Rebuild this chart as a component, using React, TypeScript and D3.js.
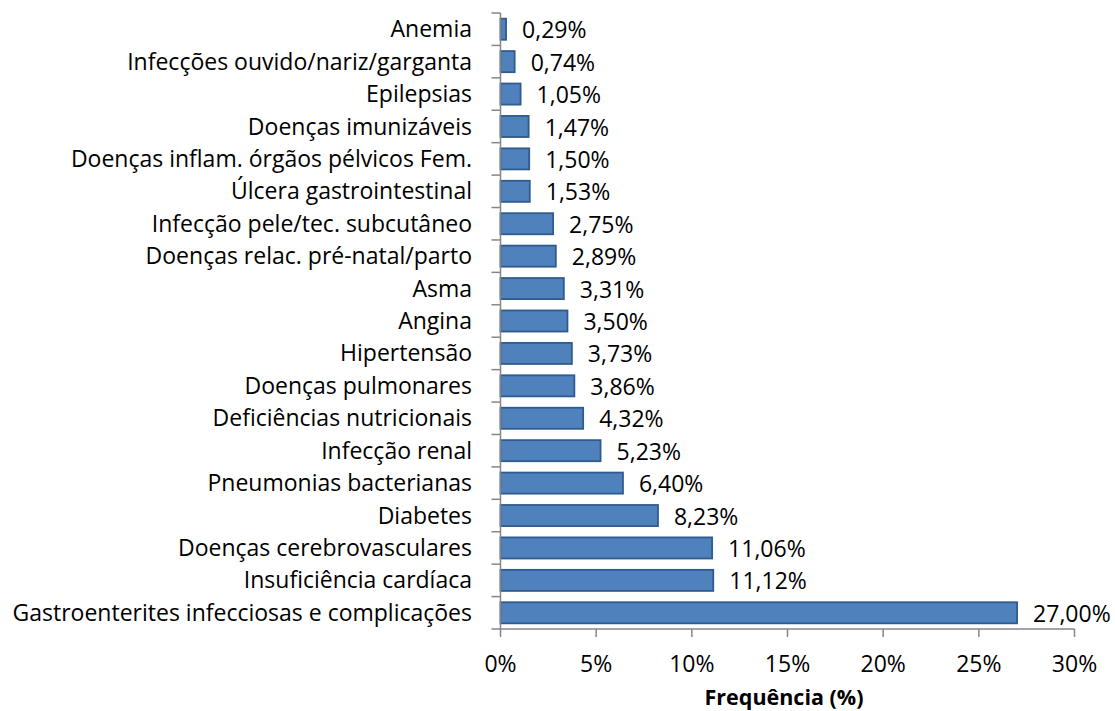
import React from "react";
import * as d3 from "d3";

const categories = [
  "Anemia",
  "Infecções ouvido/nariz/garganta",
  "Epilepsias",
  "Doenças imunizáveis",
  "Doenças inflam. órgãos pélvicos Fem.",
  "Úlcera gastrointestinal",
  "Infecção pele/tec. subcutâneo",
  "Doenças relac. pré-natal/parto",
  "Asma",
  "Angina",
  "Hipertensão",
  "Doenças pulmonares",
  "Deficiências nutricionais",
  "Infecção renal",
  "Pneumonias bacterianas",
  "Diabetes",
  "Doenças cerebrovasculares",
  "Insuficiência cardíaca",
  "Gastroenterites infecciosas e complicações",
];

const values = [
  0.29, 0.74, 1.05, 1.47, 1.5, 1.53, 2.75, 2.89, 3.31, 3.5, 3.73, 3.86, 4.32,
  5.23, 6.4, 8.23, 11.06, 11.12, 27.0,
];

const xTicks = [0, 5, 10, 15, 20, 25, 30];
const axisTitle = "Frequência (%)";

const W = 1115;
const H = 711;
const left = 500.5;
const right = 1074.5;
const top = 13;
const bottom = 629;
const font = "'Open Sans', sans-serif";
const fs = 23;

export default function App() {
  const x = d3.scaleLinear().domain([0, 30]).range([left, right]);
  const y = d3
    .scaleBand<string>()
    .domain(categories)
    .range([top, bottom])
    .paddingInner(0.35)
    .paddingOuter(0.175);
  const bandStep = (bottom - top) / categories.length;
  const fmt = (v: number) => v.toFixed(2).replace(".", ",") + "%";

  return (
    <svg
      width={W}
      height={H}
      style={{ position: "absolute", left: 0, top: 0, background: "#fff" }}
      fontFamily={font}
    >
      {categories.map((c, i) => (
        <g key={c}>
          <rect
            x={x(0)}
            y={y(c)!}
            width={x(values[i]) - x(0)}
            height={y.bandwidth()}
            fill="#4F81BD"
            stroke="#2F5B8E"
            strokeWidth={1.8}
          />
          <text
            x={x(values[i]) + 16}
            y={y(c)! + y.bandwidth() / 2 + 1}
            dy="0.35em"
            fontSize={fs}
            fill="#000"
          >
            {fmt(values[i])}
          </text>
          <text
            x={472}
            y={y(c)! + y.bandwidth() / 2}
            dy="0.35em"
            fontSize={fs}
            textAnchor="end"
            fill="#000"
          >
            {c}
          </text>
        </g>
      ))}
      {/* y axis */}
      <line x1={left} x2={left} y1={top} y2={bottom} stroke="#868686" strokeWidth={1.5} />
      {d3.range(categories.length + 1).map((i) => (
        <line
          key={"yt" + i}
          x1={left - 9}
          x2={left}
          y1={top + i * bandStep}
          y2={top + i * bandStep}
          stroke="#868686"
          strokeWidth={1.5}
        />
      ))}
      {/* x axis */}
      <line x1={left} x2={right} y1={bottom} y2={bottom} stroke="#868686" strokeWidth={1.5} />
      {xTicks.map((t) => (
        <g key={"xt" + t}>
          <line x1={x(t)} x2={x(t)} y1={bottom} y2={bottom + 8} stroke="#868686" strokeWidth={1.5} />
          <text x={x(t)} y={664} dy="0.35em" textAnchor="middle" fontSize={fs} fill="#000">
            {t + "%"}
          </text>
        </g>
      ))}
      <text
        x={784}
        y={697}
        dy="0.35em"
        textAnchor="middle"
        fontSize={21.5}
        fontWeight="bold"
        fill="#000"
      >
        {axisTitle}
      </text>
    </svg>
  );
}
